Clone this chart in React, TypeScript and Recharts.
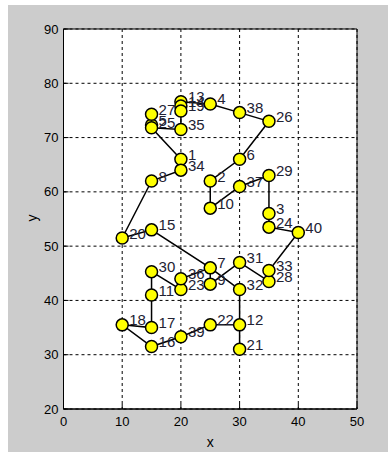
import { ScatterChart, Scatter, XAxis, YAxis, CartesianGrid, ReferenceArea } from 'recharts';

// city number, x, y
const pointIds = [
  1, 2, 3, 4, 5, 6, 7, 8, 9, 10,
  11, 12, 13, 14, 15, 16, 17, 18, 19, 20,
  21, 22, 23, 24, 25, 26, 27, 28, 29, 30,
  31, 32, 33, 34, 35, 36, 37, 38, 39, 40,
];
const pointX = [
  20, 25, 35, 25, 15, 30, 25, 15, 25, 25,
  15, 30, 20, 20, 15, 15, 15, 10, 20, 10,
  30, 25, 20, 35, 15, 35, 15, 35, 35, 15,
  30, 30, 35, 20, 20, 20, 30, 30, 20, 40,
];
const pointY = [
  66, 62, 56, 76.2, 72.3, 66, 46, 62, 43, 57,
  41, 35.5, 76.6, 75.8, 53, 31.5, 35, 35.5, 74.9, 51.5,
  31, 35.5, 42, 53.5, 71.8, 73, 74.3, 43.5, 63, 45.3,
  47, 42, 45.5, 64, 71.5, 44, 61, 74.6, 33.3, 52.5,
];

// route through the points (by number)
const routeMain = [
  21, 12, 22, 39, 16, 18, 17, 11, 30, 23, 36, 7, 15, 20, 8, 34, 1, 25, 35,
  19, 14, 13, 4, 38, 26, 6, 2, 10, 37, 29, 3, 24, 40, 33, 28, 31, 9, 7, 32, 12,
];
const routeSide = [25, 5, 27];

const xTicks = [0, 10, 20, 30, 40, 50];
const yTicks = [20, 30, 40, 50, 60, 70, 80, 90];

const FONT = '"Liberation Sans", Arial, Helvetica, sans-serif';

const points = pointIds.map((id, i) => ({ id, x: pointX[i], y: pointY[i] }));
const pick = (id: number) => points[id - 1];
const mainLine = routeMain.map(pick);
const sideLine = routeSide.map(pick);

const NoMarker = () => <g />;

const Marker = (props: any) => (
  <circle cx={props.cx} cy={props.cy} r={6} fill="#ffff00" stroke="#000" strokeWidth={1.5} />
);

const PointLabel = (props: any) => (
  <text
    x={props.cx + 7}
    y={props.cy - 5}
    dominantBaseline="central"
    fontSize={15}
    fontFamily={FONT}
    fill="#222233"
  >
    {props.payload.id}
  </text>
);

const YTitle = (props: any) => {
  const { x, y, height } = props.viewBox;
  const cx = x + 8.5;
  const cy = y + height / 2 - 1;
  return (
    <text
      x={cx}
      y={cy}
      transform={`rotate(-90 ${cx} ${cy})`}
      textAnchor="middle"
      dominantBaseline="central"
      fontSize={14}
      fontFamily={FONT}
      fill="#000"
    >
      y
    </text>
  );
};

const tickStyle = { fill: '#000', fontSize: 13, fontFamily: FONT };

export default function App() {
  return (
    <div style={{ position: 'absolute', left: 8, top: 5, width: 380, height: 447, background: '#cccccc' }}>
      <ScatterChart width={380} height={447} margin={{ top: 24, right: 31, bottom: 5, left: 15.5 }}>
        <CartesianGrid stroke="#000" strokeDasharray="3 3" fill="#ffffff" fillOpacity={1} />
        <XAxis
          type="number"
          dataKey="x"
          domain={[0, 50]}
          ticks={xTicks}
          interval={0}
          height={38}
          axisLine={{ stroke: '#000' }}
          tickLine={{ stroke: '#000' }}
          tickSize={-5}
          tickMargin={12.7}
          tick={tickStyle}
          label={{ value: 'x', position: 'insideBottom', offset: 0, fill: '#000', fontSize: 14, fontFamily: FONT }}
        />
        <YAxis
          type="number"
          dataKey="y"
          domain={[20, 90]}
          ticks={yTicks}
          interval={0}
          width={40}
          axisLine={{ stroke: '#000' }}
          tickLine={{ stroke: '#000' }}
          tickSize={-5}
          tickMargin={10}
          tick={tickStyle}
          label={YTitle}
        />
        <XAxis
          xAxisId="top"
          orientation="top"
          type="number"
          domain={[0, 50]}
          ticks={xTicks}
          interval={0}
          height={0}
          axisLine={false}
          tickLine={{ stroke: '#000' }}
          tickSize={-5}
          tick={false}
        />
        <YAxis
          yAxisId="right"
          orientation="right"
          type="number"
          domain={[20, 90]}
          ticks={yTicks}
          interval={0}
          width={0}
          axisLine={false}
          tickLine={{ stroke: '#000' }}
          tickSize={-5}
          tick={false}
        />
        <ReferenceArea x1={0} x2={50} y1={20} y2={90} fill="none" stroke="#000" strokeWidth={1} />
        <Scatter
          data={mainLine}
          line={{ stroke: '#000', strokeWidth: 1.5 }}
          lineType="joint"
          shape={NoMarker}
          isAnimationActive={false}
        />
        <Scatter
          data={sideLine}
          line={{ stroke: '#000', strokeWidth: 1.5 }}
          lineType="joint"
          shape={NoMarker}
          isAnimationActive={false}
        />
        <Scatter data={points} shape={Marker} isAnimationActive={false} />
        <Scatter data={points} shape={PointLabel} isAnimationActive={false} />
      </ScatterChart>
    </div>
  );
}
